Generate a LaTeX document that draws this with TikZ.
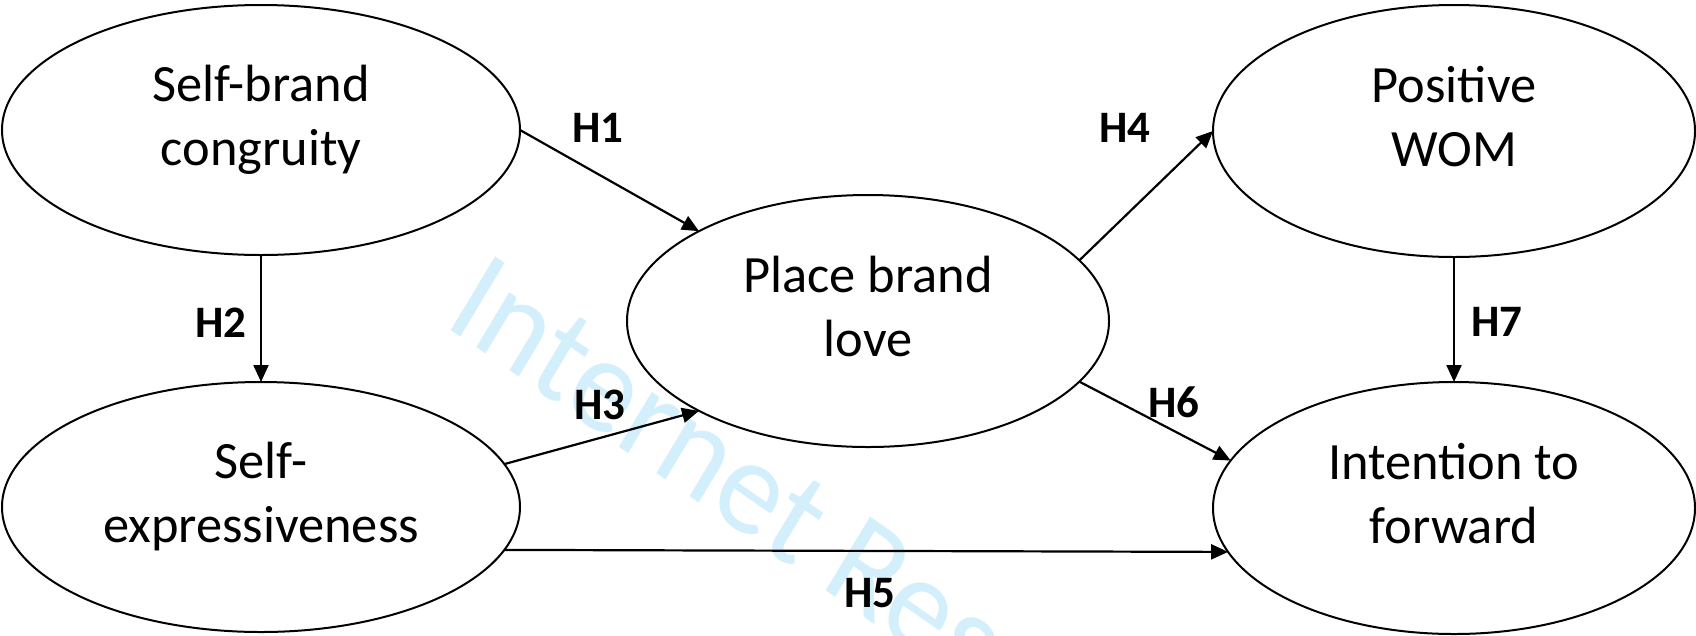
\documentclass[tikz,border=0pt]{standalone}
\usepackage{fontspec}
\setmainfont{Carlito}
\usetikzlibrary{shapes.geometric,arrows.meta}
\definecolor{wmblue}{RGB}{212,239,252}
\newcommand\topstr{\rule{0pt}{36pt}}
\newcommand\botstr{\rule[-29pt]{0pt}{1pt}}
\begin{document}
\begin{tikzpicture}[x=1pt,y=-1pt,
  ell/.style={draw, ellipse, line width=2pt, inner sep=0pt, outer sep=0pt, align=center,
              font=\fontsize{52.4}{64}\selectfont},
  bigell/.style={ell, minimum width=518pt, minimum height=250pt},
  medell/.style={ell, minimum width=482pt, minimum height=252pt},
  hyp/.style={font=\fontsize{45}{54}\selectfont\bfseries, inner sep=0pt},
  arr/.style={line width=2.2pt, -{Triangle[length=17pt,width=15pt]}}]
\useasboundingbox (0,0) rectangle (1696,635);
\fill[white] (0,0) rectangle (1696,635);
\begin{scope}
  \clip (0,0) rectangle (1696,635);
  \node[text=wmblue, font=\fontsize{137}{160}\selectfont, inner sep=0pt, anchor=base west,
        cm={0.781,-0.543,0.505,0.840,(0,0)}] (wm) at (442,324) {Internet Research};
\end{scope}
% ellipses
\node[bigell] (e1) at (261,130)  {\topstr Self-brand\\congruity\botstr};
\node[bigell] (e2) at (261,507)  {\topstr Self-\\expressiveness\botstr};
\node[medell] (e3) at (868,321)  {\topstr Place brand\\love\botstr};
\node[medell] (e4) at (1454,131) {\topstr Positive\\WOM\botstr};
\node[medell] (e5) at (1454,508) {\topstr Intention to\\forward\botstr};
% connectors
\draw[arr] (e1.east)   -- (e3.152.5);
\draw[arr] (e1.south)  -- (e2.north);
\draw[arr] (e2.10.2)   -- (e3.-152.8);
\draw[arr] (e2.-10.9)  -- (e5.-169.1);
\draw[arr] (e3.16.3)   -- (e4.west);
\draw[arr] (e3.-16.4)  -- (e5.168.8);
\draw[arr] (e4.south)  -- (e5.north);
% labels
\node[hyp] (h1) at (598,128)  {H1};
\node[hyp] (h2) at (221,323)  {H2};
\node[hyp] (h3) at (600,405)  {H3};
\node[hyp] (h4) at (1125,128) {H4};
\node[hyp] (h5) at (870,593)  {H5};
\node[hyp] (h6) at (1174,402) {H6};
\node[hyp] (h7) at (1497,322) {H7};
\end{tikzpicture}
\end{document}
